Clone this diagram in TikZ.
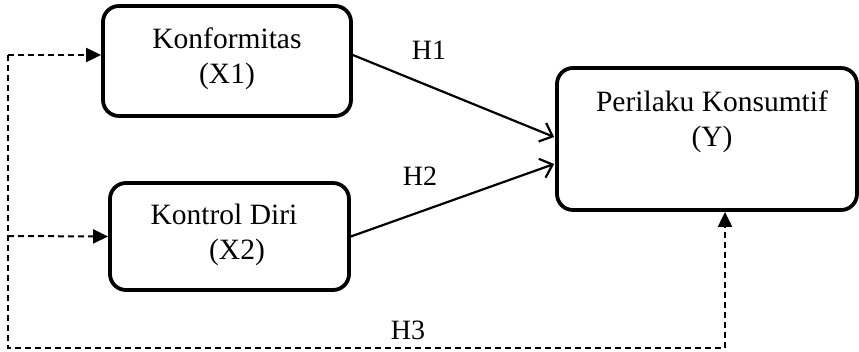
\documentclass[tikz,border=0pt]{standalone}
\usepackage{fontspec}
\setmainfont{Liberation Serif}
\usetikzlibrary{arrows.meta,calc}
\begin{document}
\begin{tikzpicture}[x=1pt,y=-1pt,
  box/.style={draw,line width=3.8pt,rounded corners=16pt,inner sep=0pt},
  boxtext/.style={align=center,font=\fontsize{29.5}{35}\selectfont},
  hlabel/.style={font=\fontsize{28}{32}\selectfont,inner sep=0pt},
  solidarrow/.style={line width=2.2pt,-{Straight Barb[length=11pt,width=20pt,line width=2.2pt]}},
  dasharrow/.style={line width=2pt,dash pattern=on 6pt off 4pt,-{Triangle[length=15pt,width=14pt]}},
  dashline/.style={line width=2pt,dash pattern=on 6pt off 4pt}]
\useasboundingbox (0,0) rectangle (859,352);
% boxes
\node[box,minimum width=248pt,minimum height=110pt] (X1) at (227,61) {};
\node[boxtext] (X1t) at (227,59) {Konformitas\\(X1)};
\node[box,minimum width=239pt,minimum height=107pt] (X2) at (229.5,236.5) {};
\node[boxtext] (X2t) at (224,235) {Kontrol Diri\\\hspace{26pt}(X2)};
\node[box,minimum width=300pt,minimum height=142pt] (Y) at (707,139) {};
\node[boxtext] (Yt) at (712,122) {Perilaku Konsumtif\\(Y)};
% solid arrows
\draw[solidarrow] ($(X1.east)+(0,-6)$) -- ($(Y.west)+(-1,-2)$);
\draw[solidarrow] (X2.east) -- ($(Y.west)+(-1,25)$);
% labels
\node[hlabel] (H1) at (429,50) {H1};
\node[hlabel] (H2) at (420,176) {H2};
\node[hlabel] (H3) at (408,330) {H3};
% dashed connectors
\coordinate (a1) at (8,55);
\coordinate (a2) at (8,236);
\coordinate (b1) at (8,348);
\coordinate (b2) at (725,348);
\draw[dasharrow] (a1) -- (a1 -| X1.west);
\draw[dasharrow] (a2) -- (X2.west);
\draw[dashline] (a1) -- (b1) -- (b2);
\draw[dasharrow] (b2) -- (b2 |- Y.south);
\end{tikzpicture}
\end{document}
